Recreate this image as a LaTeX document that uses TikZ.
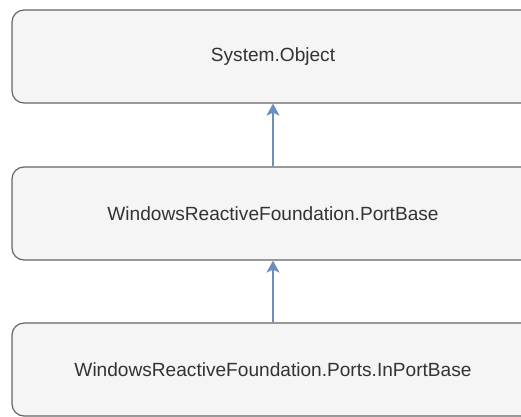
\documentclass[tikz,border=0pt]{standalone}
\usepackage{fontspec}
\setmainfont{Liberation Sans}
\usetikzlibrary{arrows.meta}
\definecolor{boxfill}{HTML}{F5F5F5}
\definecolor{boxline}{HTML}{666666}
\definecolor{txt}{HTML}{333333}
\definecolor{arr}{HTML}{6C8EBF}
\tikzset{
  classbox/.style={draw=boxline, fill=boxfill, line width=1.2pt, rounded corners=12pt,
    minimum width=522pt, minimum height=93pt, inner sep=0pt, text=txt,
    font=\fontsize{19.1}{22}\selectfont},
  inherit/.style={draw=arr, line width=1.4pt, -{Stealth[length=12pt,width=13pt,inset=3pt]}}
}
\begin{document}
\begin{tikzpicture}[x=1pt,y=-1pt]
\useasboundingbox (0,0) rectangle (521,416);
\clip (0,0) rectangle (521,416);
\node[classbox] (obj) at (273,56.5) {System.Object};
\node[classbox] (port) at (273,213.5) {WindowsReactiveFoundation.PortBase};
\node[classbox] (inport) at (273,369.5) {WindowsReactiveFoundation.Ports.InPortBase};
\draw[inherit] (port) -- (obj);
\draw[inherit] (inport) -- (port);
\end{tikzpicture}
\end{document}
